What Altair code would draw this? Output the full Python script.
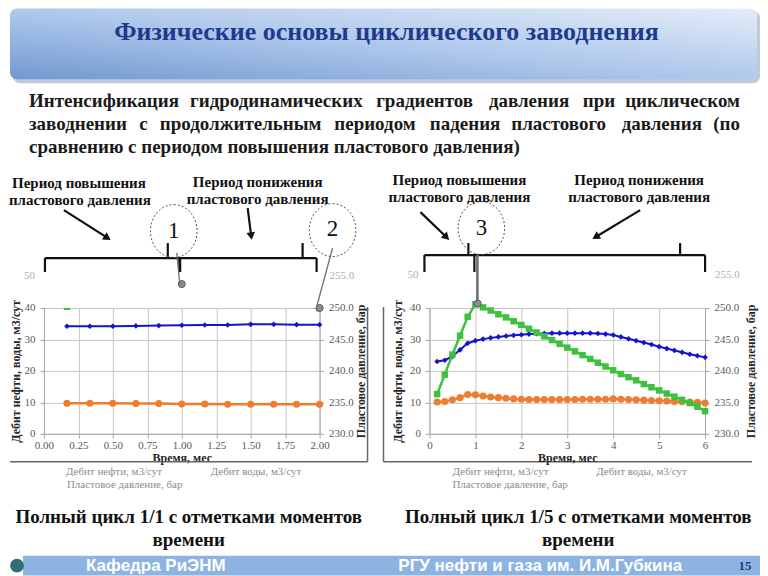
import math
import altair as alt
import pandas as pd

# ---------------- data ----------------
t_left = [0.167, 0.333, 0.5, 0.667, 0.833, 1.0, 1.167, 1.333, 1.5, 1.667, 1.833, 2.0]
oil_left = [34.2, 34.2, 34.2, 34.3, 34.4, 34.5, 34.6, 34.6, 34.8, 34.8, 34.7, 34.7]
water_left = [9.7, 9.7, 9.7, 9.6, 9.6, 9.5, 9.5, 9.4, 9.4, 9.4, 9.4, 9.4]
press_left = [250.2, 251.0, 251.8, 252.5, 253.2, 253.8, 253.2, 252.5, 251.8, 251.1, 250.5, 250.0]
moment_left_t = [1.0, 2.0]
moment_left_p = [253.8, 250.0]

t_right = [0.167, 0.333, 0.5, 0.667, 0.833, 1.0, 1.167, 1.333, 1.5, 1.667, 1.833, 2.0,
           2.167, 2.333, 2.5, 2.667, 2.833, 3.0, 3.167, 3.333, 3.5, 3.667, 3.833, 4.0,
           4.167, 4.333, 4.5, 4.667, 4.833, 5.0, 5.167, 5.333, 5.5, 5.667, 5.833, 6.0]
oil_right = [23.0, 23.4, 24.6, 26.7, 28.8, 29.6, 30.1, 30.5, 30.8, 31.1, 31.3, 31.5,
             31.7, 31.8, 31.9, 32.0, 32.0, 32.0, 32.0, 32.0, 32.0, 31.9, 31.7, 31.4,
             30.8, 30.2, 29.6, 29.0, 28.4, 27.7, 27.1, 26.5, 25.9, 25.3, 24.8, 24.3]
water_right = [10.1, 10.3, 10.8, 11.5, 12.5, 12.4, 12.0, 11.7, 11.5, 11.3, 11.1, 11.0,
               10.9, 10.9, 10.9, 10.9, 10.9, 10.9, 10.9, 11.0, 11.0, 11.0, 11.0, 11.1,
               11.0, 10.9, 10.8, 10.7, 10.6, 10.5, 10.4, 10.3, 10.2, 10.1, 10.0, 9.8]
press_right = [236.3, 239.4, 242.6, 245.6, 248.6, 250.6, 250.1, 249.6, 249.0, 248.5, 247.9, 247.3,
               246.7, 246.1, 245.5, 244.9, 244.3, 243.7, 243.1, 242.5, 241.9, 241.3, 240.7, 240.1,
               239.5, 239.0, 238.5, 237.9, 237.4, 236.9, 236.4, 235.9, 235.4, 234.9, 234.3, 233.6]
moment_right_t = [1.05]
moment_right_p = [250.7]

x_ticks_left = [0, 0.25, 0.5, 0.75, 1.0, 1.25, 1.5, 1.75, 2.0]
x_ticks_right = [0, 1, 2, 3, 4, 5, 6]
rate_ticks = [0, 10, 20, 30, 40]
press_ticks = [230, 235, 240, 245, 250]

TITLE = "Физические основы циклического заводнения"
BODY_LINE1 = "Интенсификация гидродинамических градиентов давления при циклическом"
BODY_LINE2 = "заводнении с продолжительным периодом падения пластового давления (по"
BODY_LINE3 = "сравнению с периодом повышения пластового давления)"
X_TITLE = "Время, мес"
RATE_TITLE = "Дебит нефти, воды, м3/сут"
PRESS_TITLE = "Пластовое давление, бар"

# ---------------- styles ----------------
SERIF = "Liberation Serif, Times New Roman, DejaVu Serif, serif"
SANS = "Liberation Sans Narrow, Liberation Sans, Arial, sans-serif"
BLUE = "#1414c8"
ORANGE = "#ed7d31"
GREEN = "#3cc23c"
PLOT_W, PLOT_H = 276, 126
OX, OY = 43, 308   # page position of the left plot's top-left corner


def ax(**kw):
    base = dict(labelFont=SERIF, labelFontSize=11, labelColor="#595959",
                titleFont=SERIF, titleFontSize=12, titleFontWeight="bold", titleColor="#262626",
                domainColor="#a6a6a6", tickColor="#a6a6a6", tickSize=4, gridColor="#c6c6c6",
                labelOverlap=False)
    base.update(kw)
    return alt.Axis(**base)


def plot(t, oil, water, press, mt, mp, xdom, xticks, xfmt, clip_press, lt_pad, rt_pad, extra):
    df = pd.DataFrame({"t": t, "oil": oil, "water": water, "press": press})
    dm = pd.DataFrame({"t": mt, "p": mp})
    X = alt.X("t:Q", scale=alt.Scale(domain=xdom, nice=False, zero=False),
              axis=ax(values=xticks, format=xfmt, title=X_TITLE, grid=True,
                      labelPadding=2, titlePadding=2, labelFlush=False))
    rs = alt.Scale(domain=[0, 40], nice=False)
    ra = ax(values=rate_ticks, format="d", title=RATE_TITLE, grid=True, orient="left",
            labelPadding=5, titlePadding=lt_pad)
    ps = alt.Scale(domain=[230, 250], nice=False, zero=False)
    pa = ax(values=press_ticks, format=".1f", title=PRESS_TITLE, grid=False, orient="right",
            labelPadding=5, titlePadding=rt_pad, titleAngle=270, titleBaseline="top")

    def Yr(f):
        return alt.Y(f, type="quantitative", scale=rs, axis=ra)

    def Yp(f):
        return alt.Y(f, type="quantitative", scale=ps, axis=pa)

    base = alt.Chart(df)
    rates = alt.layer(
        base.mark_line(color=BLUE, strokeWidth=2).encode(x=X, y=Yr("oil")),
        base.mark_point(shape="diamond", filled=True, color=BLUE, size=32, opacity=1).encode(x=X, y=Yr("oil")),
        base.mark_line(color=ORANGE, strokeWidth=2.5).encode(x=X, y=Yr("water")),
        base.mark_point(shape="circle", filled=True, color=ORANGE, size=50, opacity=1).encode(x=X, y=Yr("water")),
    )
    pres = alt.layer(
        base.mark_line(color=GREEN, strokeWidth=2.5, clip=clip_press).encode(x=X, y=Yp("press")),
        base.mark_point(shape="square", filled=True, color=GREEN, size=42, opacity=1,
                        clip=clip_press).encode(x=X, y=Yp("press")),
        alt.Chart(dm).mark_point(shape="circle", filled=True, fill="#8c8c8c", stroke="#5a5a5a",
                                 strokeWidth=1, size=50, opacity=1).encode(x=X, y=Yp("p")),
    )
    return alt.layer(rates, pres, *extra).resolve_scale(y="independent").properties(
        width=PLOT_W, height=PLOT_H)


# ---------------- decorations (page pixel positions) ----------------
PX = dict(scale=None, axis=None)


def frame(rows, cols):
    d = pd.DataFrame(rows, columns=cols)
    for c in cols:
        if c.startswith("x"):
            d[c] = d[c] - OX
        elif c.startswith("y"):
            d[c] = d[c] - OY
    return d


def texts(rows, **kw):
    d = frame(rows, ["text", "x", "y"])
    kw.setdefault("baseline", "middle")
    return alt.Chart(d).mark_text(**kw).encode(
        x=alt.X("x:Q", **PX), y=alt.Y("y:Q", **PX), text="text:N")


def rules(rows, **kw):
    d = frame(rows, ["x1", "y1", "x2", "y2"])
    return alt.Chart(d).mark_rule(**kw).encode(
        x=alt.X("x1:Q", **PX), y=alt.Y("y1:Q", **PX), x2="x2:Q", y2="y2:Q")


def rects(rows, **kw):
    d = frame(rows, ["x1", "y1", "x2", "y2"])
    return alt.Chart(d).mark_rect(**kw).encode(
        x=alt.X("x1:Q", **PX), y=alt.Y("y1:Q", **PX), x2="x2:Q", y2="y2:Q")


def points(rows, **kw):
    d = frame(rows, ["x", "y", "ang"])
    return alt.Chart(d).mark_point(**kw).encode(
        x=alt.X("x:Q", **PX), y=alt.Y("y:Q", **PX), angle=alt.Angle("ang:Q", scale=None))


# rough advance widths (em) of a bold Times-like face, used to justify lines
WIDE = set("шщыюжмфШЩЫЮЖМФ")
NARROW = set("сегзэСЕГЗЭ")


def est_width(word, size):
    em = 0.0
    for ch in word:
        if ch in WIDE:
            em += 0.72
        elif ch in NARROW:
            em += 0.44
        elif ch in "().,":
            em += 0.33
        elif ch.isupper():
            em += 0.72
        else:
            em += 0.52
    return em * size * 1.03


def justify(line, y, size, x0=28, x1=740):
    words = line.split(" ")
    total = sum(est_width(w, size) for w in words)
    gap = (x1 - x0 - total) / (len(words) - 1)
    lefts, x = [], x0
    for w in words[:-1]:
        lefts.append((w, x, y))
        x += est_width(w, size) + gap
    return lefts, [(words[-1], x1, y)]


BODY_SIZE = 19
deco = []
# invisible page-sized rect that fixes the canvas extent
deco.append(rects([(8, 8, 760, 576)], opacity=0))
# title box
deco.append(rects([(12, 11, 760, 83)], fill="#8d9db6", opacity=0.55, cornerRadius=7))
deco.append(rects([(9, 8, 757, 79)], cornerRadius=7, fill={
    "gradient": "linear", "x1": 0, "y1": 1, "x2": 1, "y2": 0,
    "stops": [{"offset": 0, "color": "#7199d0"}, {"offset": 0.45, "color": "#aac4ea"},
              {"offset": 1, "color": "#e4edf9"}]}))
deco.append(texts([(TITLE, 386, 32)], font=SERIF, fontSize=26, fontWeight="bold",
                  color="#1f3a8c", align="center"))

# body paragraph (first two lines justified)
l1a, l1b = justify(BODY_LINE1, 101, BODY_SIZE)
l2a, l2b = justify(BODY_LINE2, 124, BODY_SIZE)
deco.append(texts(l1a + l2a + [(BODY_LINE3, 28, 147)], font=SERIF, fontSize=BODY_SIZE,
                  fontWeight="bold", color="#1a1a1a", align="left"))
deco.append(texts(l1b + l2b, font=SERIF, fontSize=BODY_SIZE, fontWeight="bold",
                  color="#1a1a1a", align="right"))

# period annotations
ann = [("Период повышения", 78, 183), ("пластового давления", 79, 200),
       ("Период понижения", 257, 182), ("пластового давления", 257, 199),
       ("Период повышения", 459, 180), ("пластового давления", 459, 197),
       ("Период понижения", 639, 180), ("пластового давления", 639, 197)]
deco.append(texts(ann, font=SERIF, fontSize=15, fontWeight="bold", color="#111111", align="center"))

# arrows
arrows = [(63, 210, 110, 240), (247, 208, 251, 240), (420, 212, 449, 240), (640, 210, 592, 239)]
shafts, heads = [], []
for x1, y1, x2, y2 in arrows:
    L = math.hypot(x2 - x1, y2 - y1)
    ux, uy = (x2 - x1) / L, (y2 - y1) / L
    hx, hy = x2 - 4 * ux, y2 - 4 * uy
    shafts.append((x1, y1, hx, hy))
    heads.append((hx, hy, math.degrees(math.atan2(ux, -uy)) % 360))
deco.append(rules(shafts, color="#111111", strokeWidth=2.2))
deco.append(points(heads, shape="triangle-up", filled=True, color="#111111", size=75, opacity=1))

# brackets
brackets = [(44, 258, 316, 258), (44, 258, 44, 272), (316, 258, 316, 272),
            (167, 243, 167, 258), (302, 243, 302, 258),
            (424, 255, 705, 255), (424, 255, 424, 272), (705, 255, 705, 272),
            (468, 243, 468, 255), (680, 243, 680, 255), (474, 255, 474, 272)]
deco.append(rules(brackets, color="#111111", strokeWidth=2.2))
deco.append(rules([(179, 258, 179, 272)], color="#111111", strokeWidth=3))

# connectors from the numbered circles to the time marks
deco.append(rules([(176, 253, 179, 284), (332, 248, 316, 307)], color="#6e6e6e", strokeWidth=1.3))
deco.append(rules([(477, 255, 477, 303)], color="#707070", strokeWidth=2.6))

# dashed circles with numbers
ellipse = "M 0 -1 A 0.88 1 0 1 1 0 1 A 0.88 1 0 1 1 0 -1 Z"
deco.append(points([(173, 231, 0), (332, 230, 0), (481, 228, 0)], shape=ellipse, filled=False,
                   color="#555555", strokeWidth=1, strokeDash=[2, 2], size=2809, opacity=1))
deco.append(texts([("1", 173, 231), ("2", 332, 229), ("3", 481, 228)], font=SERIF, fontSize=23,
                  color="#111111", align="center"))

# chart frames
deco.append(rules([(367, 307, 367, 462), (9, 462, 367, 462), (383, 307, 383, 462), (383, 462, 752, 462)],
                  color="#666666", strokeWidth=1.5))

# faded upper axis labels
deco.append(texts([("50", 34, 276), ("50", 418, 275)], font=SERIF, fontSize=11, color="#b0b0b0", align="right"))
deco.append(texts([("255.0", 329, 276), ("255.0", 715, 275)], font=SERIF, fontSize=11, color="#b0b0b0", align="left"))

# faded legends
leg = [("Дебит нефти, м3/сут", 65, 472), ("Дебит воды, м3/сут", 210, 472), ("Пластовое давление, бар", 66, 485),
       ("Дебит нефти, м3/сут", 452, 472), ("Дебит воды, м3/сут", 596, 472), ("Пластовое давление, бар", 452, 485)]
deco.append(texts(leg, font=SERIF, fontSize=11, color="#8c8c8c", align="left"))

# captions
cap = [("Полный цикл 1/1 с отметками моментов", 188, 517), ("времени", 188, 540),
       ("Полный цикл 1/5 с отметками моментов", 578, 517), ("времени", 578, 540)]
deco.append(texts(cap, font=SERIF, fontSize=19, fontWeight="bold", color="#111111", align="center"))

# footer
deco.append(rects([(22, 556, 760, 576)], fill="#8db3e2"))
deco.append(texts([("Кафедра РиЭНМ", 155, 566), ("РГУ нефти и газа им. И.М.Губкина", 540, 566)],
                  font=SANS, fontSize=17, fontWeight="bold", color="white", align="center"))
deco.append(texts([("15", 745, 566)], font=SERIF, fontSize=13, fontWeight="bold", color="#1f3d7a", align="center"))
deco.append(points([(16, 566, 0)], shape="circle", filled=True, color="#2f6f78", size=190, opacity=1))

left = plot(t_left, oil_left, water_left, press_left, moment_left_t, moment_left_p,
            [0, 2], x_ticks_left, ".2f", True, 1, 2, deco)
right = plot(t_right, oil_right, water_right, press_right, moment_right_t, moment_right_p,
             [0, 6], x_ticks_right, "d", False, 5, 7, [])

chart = alt.hconcat(left, right, spacing=110, bounds="flush").properties(
    padding=0).configure_view(stroke=None)

chart.save("out.html", embed_options={"renderer": "svg", "actions": False})
